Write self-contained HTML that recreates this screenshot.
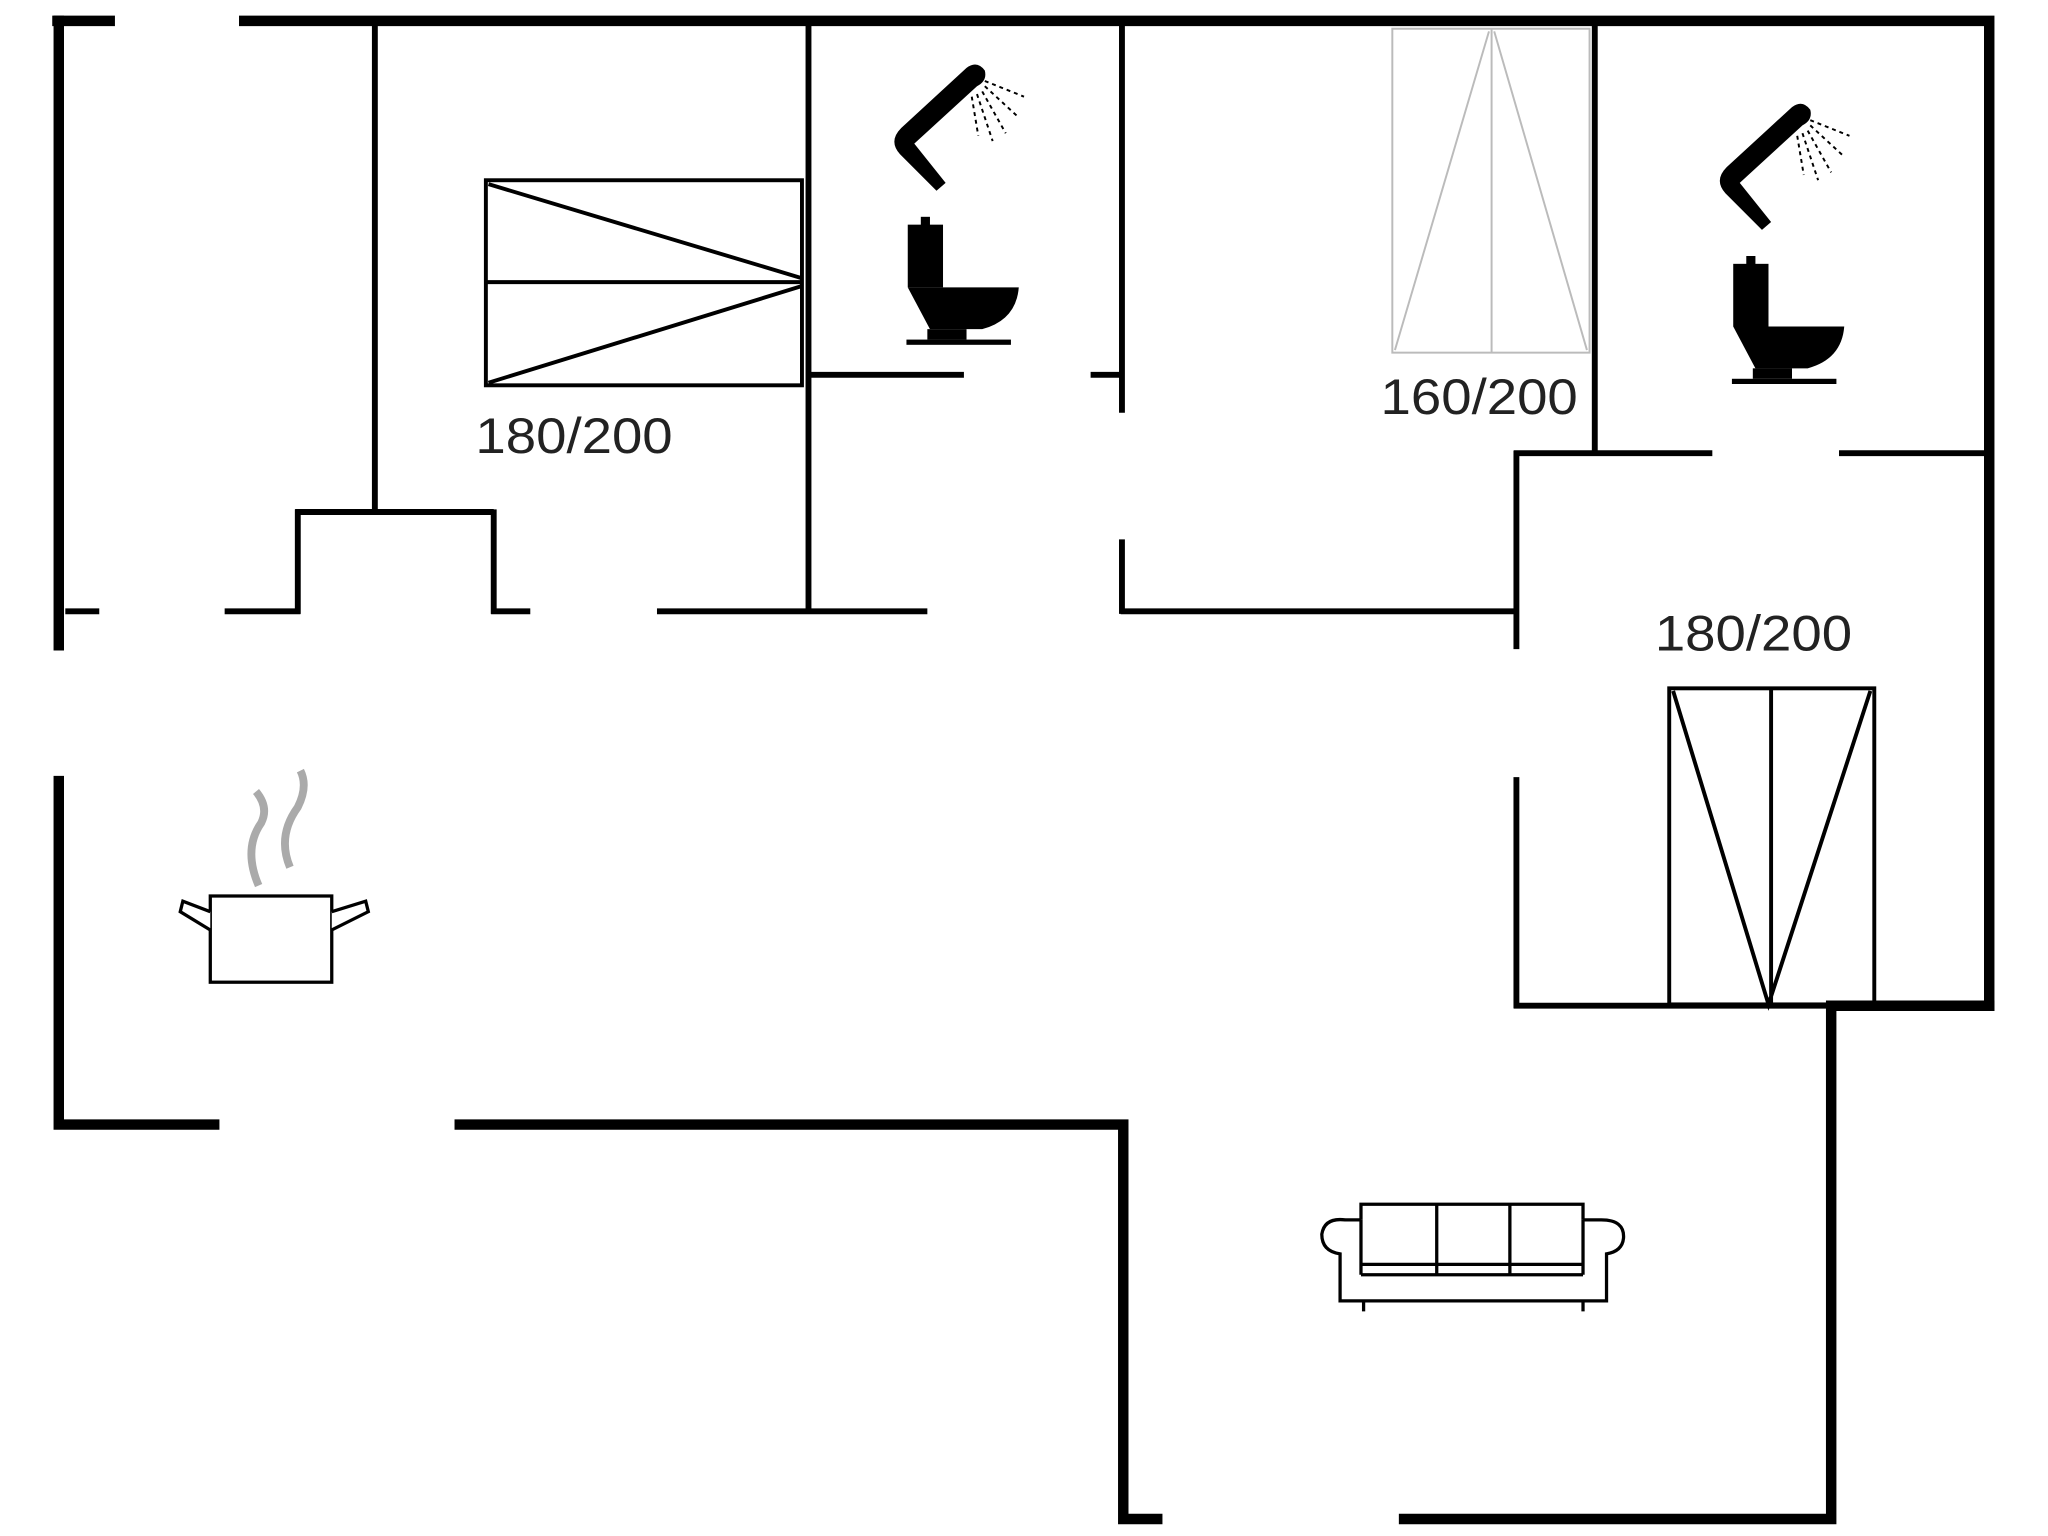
<!DOCTYPE html>
<html><head><meta charset="utf-8"><style>html,body{margin:0;padding:0;background:#fff}svg{display:block}</style></head><body>
<svg width="2048" height="1536" viewBox="0 0 1568 1176" preserveAspectRatio="none" xmlns="http://www.w3.org/2000/svg">
<rect width="1568" height="1176" fill="#fff"/>
<g stroke="#000" stroke-width="8" fill="none" stroke-linecap="square">
<path d="M44 16H84M187 16H1523V770"/>
<path d="M45 16V494M45 598V861H164M352 861H860V1163H886M1075 1163H1402V770H1523"/>
</g>
<g stroke="#000" stroke-width="4.5" fill="none">
<path d="M287 16V392M226 392H378M228 390V470M378 390V470"/>
<path d="M50 468H76M172 468H230M376 468H406M503 468H710M858 468H1161"/>
<path d="M619 16V468M619 287H738M835 287H861M859 16V316M859 413V470"/>
<path d="M1161 345V497M1161 595V772M1159 347H1311M1408 347H1520M1221 16V349M1159 770H1402"/>
</g>
<g stroke="#000" stroke-width="3" fill="none">
<rect x="372" y="138" width="242" height="157"/>
<path d="M372 216H614M374 141L614 213M374 293L614 219"/>
<rect x="1278" y="527" width="157" height="242"/>
<path d="M1356 527V769M1281 529L1354 769L1432 529"/>
</g>
<g stroke="#bbb" stroke-width="1.5" fill="none">
<rect x="1066" y="22" width="151" height="248"/>
<path d="M1142 22V270M1068 268L1140 24M1215 268L1144 24"/>
</g>
<g font-family="Liberation Sans, sans-serif" font-size="38" fill="#222">
<text x="364" y="347" textLength="151" lengthAdjust="spacingAndGlyphs">180/200</text>
<text x="1057" y="317" textLength="151" lengthAdjust="spacingAndGlyphs">160/200</text>
<text x="1267" y="498" textLength="151" lengthAdjust="spacingAndGlyphs">180/200</text>
</g>
<g>
<path d="M717 146L689 118Q680 108 690 98L740 52Q748 46 754 54Q756 62 748 66L700 110L724 140Z" fill="#000"/>
<path d="M754 62l30 12M754 66l26 24M752 70l18 32M748 72l12 36M744 74l5 30" stroke="#000" stroke-dasharray="3 3" stroke-width="1.5"/>
<rect x="695" y="172" width="27" height="48" fill="#000"/><rect x="705" y="166" width="7" height="8" fill="#000"/>
<path d="M695 220H780Q778 245 752 252H712Z" fill="#000"/><rect x="710" y="252" width="30" height="8" fill="#000"/><rect x="694" y="260" width="80" height="4" fill="#000"/>
</g>
<g transform="translate(632,30)">
<path d="M717 146L689 118Q680 108 690 98L740 52Q748 46 754 54Q756 62 748 66L700 110L724 140Z" fill="#000"/>
<path d="M754 62l30 12M754 66l26 24M752 70l18 32M748 72l12 36M744 74l5 30" stroke="#000" stroke-dasharray="3 3" stroke-width="1.5"/>
<rect x="695" y="172" width="27" height="48" fill="#000"/><rect x="705" y="166" width="7" height="8" fill="#000"/>
<path d="M695 220H780Q778 245 752 252H712Z" fill="#000"/><rect x="710" y="252" width="30" height="8" fill="#000"/><rect x="694" y="260" width="80" height="4" fill="#000"/>
</g>
<g stroke="#000" stroke-width="2.5" fill="#fff">
<rect x="161" y="686" width="93" height="66"/>
<path d="M161 698L140 690L138 698L161 712M254 698L280 690L282 698L254 712"/>
</g>
<path d="M198 678Q186 650 200 630Q206 618 196 606M222 664Q212 640 228 618Q236 602 230 590" stroke="#aaa" stroke-width="6" fill="none"/>
<g stroke="#000" stroke-width="2.5" fill="#fff">
<path d="M1026 996V960Q1012 958 1012 945Q1014 932 1030 934H1042V922H1212V934H1226Q1244 934 1243 948Q1242 958 1230 960V996Z"/>
<path d="M1042 934V968H1212V934M1042 976H1212M1100 922V976M1156 922V976M1042 968V976M1212 968V976"/>
<path d="M1044 996V1004M1212 996V1004"/>
</g>
</svg>
</body></html>
